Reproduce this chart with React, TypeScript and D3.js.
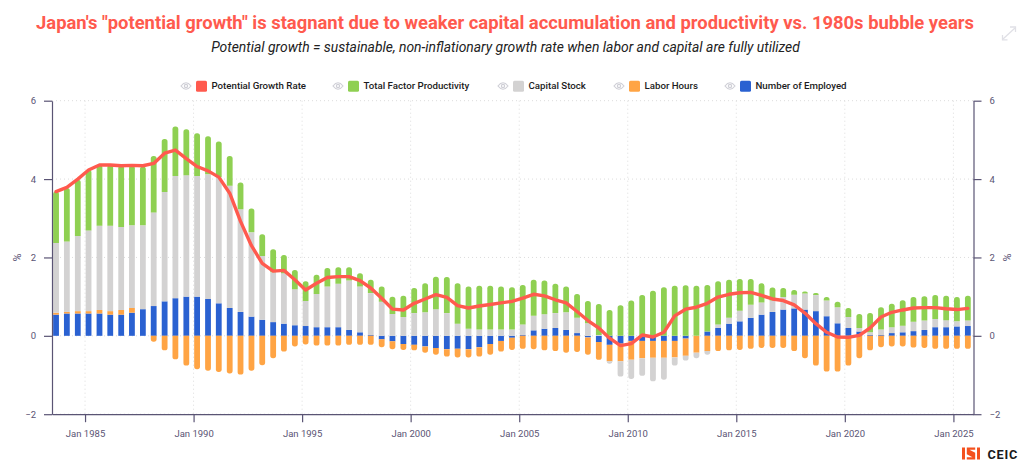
import * as d3 from "d3";
import React, { useEffect, useRef } from "react";

// half-yearly points, Sep 1983 .. Sep 2025
const periods = d3.utcMonth.range(new Date(Date.UTC(1983, 8, 1)), new Date(Date.UTC(2025, 9, 1)), 6);

const potentialGrowth = [3.68, 3.79, 4.0, 4.23, 4.36, 4.36, 4.34, 4.35, 4.34, 4.4, 4.66, 4.74, 4.52, 4.32, 4.21, 4.05, 3.64, 2.92, 2.3, 1.85, 1.65, 1.67, 1.43, 1.17, 1.34, 1.49, 1.51, 1.51, 1.41, 1.22, 0.96, 0.68, 0.66, 0.83, 0.94, 1.05, 0.98, 0.77, 0.71, 0.76, 0.8, 0.84, 0.88, 0.96, 1.06, 1.02, 0.92, 0.84, 0.62, 0.39, 0.2, -0.06, -0.25, -0.2, 0.02, -0.03, 0.09, 0.51, 0.68, 0.73, 0.83, 0.99, 1.06, 1.1, 1.11, 1.03, 0.94, 0.9, 0.79, 0.58, 0.31, 0.09, -0.03, -0.04, 0.01, 0.2, 0.48, 0.6, 0.66, 0.71, 0.72, 0.72, 0.69, 0.67, 0.7];
const employed = [0.54, 0.57, 0.57, 0.57, 0.57, 0.54, 0.54, 0.59, 0.68, 0.76, 0.88, 0.96, 1.0, 1.0, 0.94, 0.83, 0.71, 0.61, 0.49, 0.41, 0.35, 0.31, 0.27, 0.25, 0.22, 0.22, 0.22, 0.15, 0.09, 0.02, -0.09, -0.14, -0.21, -0.23, -0.27, -0.31, -0.34, -0.33, -0.34, -0.29, -0.21, -0.13, -0.05, 0.02, 0.14, 0.18, 0.2, 0.15, 0.07, -0.04, -0.16, -0.23, -0.2, -0.13, -0.13, -0.13, -0.13, -0.13, -0.07, 0.0, 0.11, 0.2, 0.31, 0.37, 0.46, 0.54, 0.61, 0.67, 0.7, 0.67, 0.63, 0.5, 0.32, 0.2, 0.11, 0.02, 0.02, 0.07, 0.09, 0.12, 0.15, 0.22, 0.22, 0.24, 0.25];
const laborHours = [0.05, 0.04, 0.06, 0.06, 0.09, 0.09, 0.12, 0.12, 0.0, -0.15, -0.37, -0.6, -0.76, -0.85, -0.89, -0.92, -0.96, -0.99, -0.89, -0.75, -0.57, -0.4, -0.27, -0.22, -0.25, -0.25, -0.25, -0.23, -0.23, -0.23, -0.2, -0.2, -0.15, -0.14, -0.16, -0.17, -0.19, -0.22, -0.21, -0.24, -0.27, -0.27, -0.31, -0.33, -0.34, -0.37, -0.39, -0.43, -0.41, -0.44, -0.45, -0.42, -0.45, -0.48, -0.44, -0.43, -0.43, -0.42, -0.44, -0.43, -0.39, -0.39, -0.37, -0.36, -0.33, -0.31, -0.31, -0.31, -0.39, -0.57, -0.76, -0.91, -0.91, -0.76, -0.57, -0.37, -0.29, -0.27, -0.27, -0.3, -0.31, -0.33, -0.33, -0.33, -0.33];
const capitalStock = [1.78, 1.8, 1.92, 2.06, 2.15, 2.18, 2.12, 2.11, 2.14, 2.39, 2.79, 3.12, 3.1, 3.08, 3.18, 3.22, 3.12, 2.62, 2.15, 1.63, 1.27, 1.29, 0.92, 0.64, 0.85, 1.04, 1.11, 1.26, 1.17, 1.07, 0.87, 0.56, 0.48, 0.58, 0.6, 0.68, 0.58, 0.31, 0.18, 0.16, 0.16, 0.16, 0.16, 0.27, 0.37, 0.37, 0.38, 0.45, 0.39, 0.32, 0.02, -0.06, -0.39, -0.49, -0.45, -0.6, -0.56, -0.21, -0.12, -0.14, -0.09, 0.09, 0.15, 0.27, 0.33, 0.31, 0.29, 0.32, 0.35, 0.41, 0.41, 0.4, 0.41, 0.28, 0.09, 0.07, 0.14, 0.15, 0.17, 0.24, 0.24, 0.21, 0.18, 0.13, 0.14];
const tfp = [1.31, 1.36, 1.43, 1.54, 1.55, 1.55, 1.56, 1.52, 1.5, 1.44, 1.35, 1.26, 1.17, 1.09, 0.97, 0.91, 0.76, 0.68, 0.61, 0.55, 0.59, 0.46, 0.49, 0.5, 0.49, 0.47, 0.42, 0.34, 0.34, 0.34, 0.39, 0.44, 0.54, 0.64, 0.74, 0.83, 0.92, 1.03, 1.08, 1.12, 1.12, 1.1, 1.08, 1.01, 0.92, 0.86, 0.75, 0.66, 0.61, 0.57, 0.79, 0.66, 0.78, 0.9, 1.04, 1.15, 1.24, 1.28, 1.29, 1.28, 1.19, 1.1, 0.97, 0.81, 0.66, 0.49, 0.33, 0.23, 0.12, 0.05, 0.05, 0.09, 0.14, 0.23, 0.36, 0.49, 0.57, 0.6, 0.65, 0.63, 0.62, 0.61, 0.62, 0.62, 0.63];

const yTicks = [-2, 0, 2, 4, 6];
const xTickYears = [1985, 1990, 1995, 2000, 2005, 2010, 2015, 2020, 2025];
const stackKeys = ["employed", "laborHours", "capitalStock", "tfp"];
const legendItems = ["Potential Growth Rate", "Total Factor Productivity", "Capital Stock", "Labor Hours", "Number of Employed"];

const RED = "#ff5a4e";
const colors: Record<string, string> = { employed: "#2a61d1", laborHours: "#ffa444", capitalStock: "#d3d2d2", tfp: "#8fd052" };
const legendColors = [RED, colors.tfp, colors.capitalStock, colors.laborHours, colors.employed];
const legendX = [186, 338, 503, 619, 730];
const AXIS = "#5a5474";
const FONT = "Roboto, sans-serif";

const W = 1024, H = 469;
const m = { l: 52, r: 973.5, t: 100.7, b: 414.2 };

const x = d3.scaleUtc([new Date(Date.UTC(1983, 5, 25)), new Date(Date.UTC(2025, 11, 5))], [m.l, m.r]);
const y = d3.scaleLinear([-2, 6], [m.b, m.t]);
const xTicks = xTickYears.map((yr) => new Date(Date.UTC(yr, 0, 1)));

const rows = periods.map((_, i) => ({ i, employed: employed[i], laborHours: laborHours[i], capitalStock: capitalStock[i], tfp: tfp[i] }));
const stacked = d3.stack<any>().keys(stackKeys).offset(d3.stackOffsetDiverging)(rows);

const barW = 5.8;

// segment of a bar, outer end rounded when it is the last one of its side
const segPath = (cx: number, y0: number, y1: number, round: boolean) => {
  const h = Math.abs(y1 - y0);
  const r = round ? Math.min(2.6, h) : 0;
  const dir = y1 < y0 ? 1 : -1;
  const l = cx - barW / 2, rt = cx + barW / 2;
  const p = d3.path();
  p.moveTo(l, y0);
  p.lineTo(l, y1 + dir * r);
  if (r) p.quadraticCurveTo(l, y1, l + r, y1);
  p.lineTo(rt - r, y1);
  if (r) p.quadraticCurveTo(rt, y1, rt, y1 + dir * r);
  p.lineTo(rt, y0);
  p.closePath();
  return p.toString();
};

const outerKey = (i: number, positive: boolean) => {
  let key = "";
  for (const k of stackKeys) {
    const v = (rows[i] as any)[k];
    if (positive ? v > 0 : v < 0) key = k;
  }
  return key;
};

const line = d3.line<number>().x((_, i) => x(periods[i])).y((d) => y(d));

const Eye = ({ cx, cy }: { cx: number; cy: number }) => (
  <g stroke="#cfcfd6" fill="none" strokeWidth={1.2}>
    <path d={`M${cx - 5},${cy} Q${cx},${cy - 6.5} ${cx + 5},${cy} Q${cx},${cy + 6.5} ${cx - 5},${cy}Z`} />
    <circle cx={cx} cy={cy} r={1.6} />
  </g>
);

const styleAxis = (g: d3.Selection<SVGGElement, unknown, null, undefined>) => {
  g.selectAll(".domain,.tick line").attr("stroke", AXIS).attr("stroke-width", 1.2);
  g.selectAll(".tick text").attr("fill", AXIS).attr("font-size", 9.5).attr("font-family", FONT);
};

export default function App() {
  const gx = useRef<SVGGElement>(null);
  const gl = useRef<SVGGElement>(null);
  const gr = useRef<SVGGElement>(null);

  useEffect(() => {
    const ax = d3.axisBottom(x).tickValues(xTicks).tickFormat((d) => d3.utcFormat("Jan %Y")(d as Date)).tickSize(8).tickSizeOuter(0).tickPadding(8);
    d3.select(gx.current!).call(ax as any).call(styleAxis);
    const al = d3.axisLeft(y).tickValues(yTicks).tickFormat(d3.format("d") as any).tickSize(8).tickSizeOuter(0).tickPadding(8);
    d3.select(gl.current!).call(al as any).call(styleAxis);
    const ar = d3.axisRight(y).tickValues(yTicks).tickFormat(d3.format("d") as any).tickSize(8).tickSizeOuter(0).tickPadding(8);
    d3.select(gr.current!).call(ar as any).call(styleAxis);
  }, []);

  return (
    <svg width={W} height={H} style={{ position: "fixed", left: 0, top: 0, background: "#fff" }}>
      <text x={505} y={28.5} textAnchor="middle" fontFamily={FONT} fontWeight={700} fontSize={18.4} fill={RED}>
        Japan's "potential growth" is stagnant due to weaker capital accumulation and productivity vs. 1980s bubble years
      </text>
      <text x={505.5} y={52} textAnchor="middle" fontFamily={FONT} fontStyle="italic" fontSize={13.9} fill="#222">
        Potential growth = sustainable, non-inflationary growth rate when labor and capital are fully utilized
      </text>

      {/* expand icon */}
      <g stroke="#e0e0e6" strokeWidth={1.3} fill="none">
        <path d="M1003,39 L1015,28" />
        <path d="M1002.5,35 V39.8 H1007.5" />
        <path d="M1010,27 H1015.5 V32" />
      </g>

      {/* legend */}
      {legendItems.map((name, i) => (
        <g key={name}>
          <Eye cx={legendX[i]} cy={86} />
          <rect x={legendX[i] + 10} y={80.7} width={11} height={11} rx={1.5} fill={legendColors[i]} />
          <text x={legendX[i] + 25.5} y={89.4} fontFamily={FONT} fontWeight={500} fontSize={9.7} fill="#1c1c22">{name}</text>
        </g>
      ))}

      {/* grid */}
      <g stroke="#dcdcdc" strokeDasharray="1 3" strokeWidth={1}>
        {yTicks.map((t) => <line key={t} x1={m.l} x2={m.r} y1={y(t)} y2={y(t)} />)}
        {xTicks.map((t) => <line key={+t} x1={x(t)} x2={x(t)} y1={m.t} y2={m.b} />)}
      </g>

      {/* stacked bars */}
      {stacked.map((s) => (
        <g key={s.key} fill={colors[s.key]}>
          {s.map((d, i) => {
            const v = (rows[i] as any)[s.key];
            if (!v) return null;
            const positive = v > 0;
            const isOuter = outerKey(i, positive) === s.key;
            const y0 = positive ? y(d[0]) : y(d[1]);
            const y1 = positive ? y(d[1]) : y(d[0]);
            return <path key={i} d={segPath(x(periods[i]), y0, y1, isOuter)} />;
          })}
        </g>
      ))}

      <path d={line(potentialGrowth) || ""} fill="none" stroke={RED} strokeWidth={3.4} strokeLinejoin="round" strokeLinecap="round" />

      <g ref={gx} transform={`translate(0,${m.b})`} />
      <g ref={gl} transform={`translate(${m.l},0)`} />
      <g ref={gr} transform={`translate(${m.r},0)`} />

      <text transform={`translate(21,${y(2)}) rotate(-90)`} textAnchor="middle" fontFamily={FONT} fontSize={11} fill={AXIS}>%</text>
      <text transform={`translate(1011,${y(2)}) rotate(-90)`} textAnchor="middle" fontFamily={FONT} fontSize={11} fill={AXIS}>%</text>

      {/* CEIC mark */}
      <g fill="#f4511e">
        <rect x={962} y={447.5} width={3} height={12} />
        <rect x={977} y={447.5} width={3} height={12} />
        <path d="M966.8,447.5 H975.2 V449.8 H969.5 L975.2,452.8 V459.5 H966.8 V457.2 H972.5 L966.8,454.2 Z" />
      </g>
      <text x={987.5} y={458.5} fontFamily={FONT} fontWeight={700} fontSize={12.7} letterSpacing={0.8} fill="#1a1a1a">CEIC</text>
    </svg>
  );
}
